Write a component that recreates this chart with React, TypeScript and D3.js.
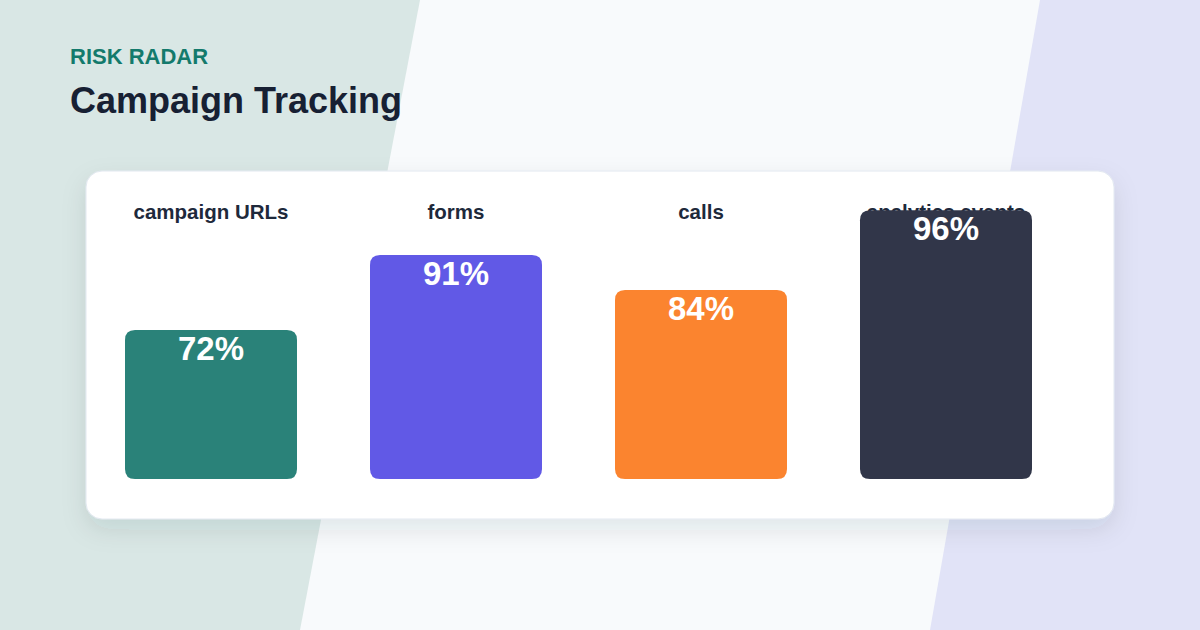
import React from "react";
import * as d3 from "d3";

const categories = ["campaign URLs", "forms", "calls", "analytics events"];
const valueLabels = ["72%", "91%", "84%", "96%"];
// bar heights as drawn (percent of the plot height)
const barLevels = [53.2, 80, 67.5, 96];
const colors = ["#2a8279", "#6159e6", "#fb842f", "#313649"];

const W = 1200;
const H = 630;
const card = { x: 86, y: 171, w: 1028, h: 348 };
const plot = { left: 125, right: 1032, bottom: 479 };

export default function App() {
  const x = d3
    .scaleBand<string>()
    .domain(categories)
    .range([plot.left, plot.right])
    .paddingInner(73 / 245)
    .paddingOuter(0);
  const bw = x.bandwidth();
  const xPos = (c: string) => (x(c) as number);
  const y = d3.scaleLinear().domain([0, 100]).range([plot.bottom, plot.bottom - 280]);
  const font = "'Liberation Sans', Arial, Helvetica, sans-serif";
  const r = 10;
  const barPath = (x0: number, y0: number, w: number, h: number) => {
    const p = d3.path();
    p.moveTo(x0 + r, y0);
    p.lineTo(x0 + w - r, y0);
    p.quadraticCurveTo(x0 + w, y0, x0 + w, y0 + r);
    p.lineTo(x0 + w, y0 + h - r);
    p.quadraticCurveTo(x0 + w, y0 + h, x0 + w - r, y0 + h);
    p.lineTo(x0 + r, y0 + h);
    p.quadraticCurveTo(x0, y0 + h, x0, y0 + h - r);
    p.lineTo(x0, y0 + r);
    p.quadraticCurveTo(x0, y0, x0 + r, y0);
    p.closePath();
    return p.toString();
  };
  return (
    <svg
      width={W}
      height={H}
      style={{ position: "absolute", left: 0, top: 0, display: "block" }}
      fontFamily={font}
    >
      <defs>
        <filter id="shadow" x="-10%" y="-20%" width="120%" height="150%">
          <feDropShadow dx="0" dy="10" stdDeviation="12" floodColor="#1e293b" floodOpacity="0.10" />
        </filter>
      </defs>
      <rect x={0} y={0} width={W} height={H} fill="#f8fafc" />
      <polygon points="0,0 420,0 300,630 0,630" fill="#d9e7e5" />
      <polygon points="1040,0 1200,0 1200,630 930,630" fill="#e1e3f7" />
      <text x={70} y={64} fontSize={22} fontWeight={700} fill="#137a6c">
        RISK RADAR
      </text>
      <text x={70} y={113} fontSize={36} fontWeight={700} fill="#172033">
        Campaign Tracking
      </text>
      <rect
        x={card.x}
        y={card.y}
        width={card.w}
        height={card.h}
        rx={16}
        fill="#ffffff"
        stroke="#e2e8f0"
        strokeWidth={1}
        filter="url(#shadow)"
      />
      {categories.map((c, i) => (
        <text
          key={"c" + i}
          x={xPos(c) + bw / 2}
          y={219}
          textAnchor="middle"
          fontSize={20.5}
          fontWeight={700}
          fill="#1e293b"
        >
          {c}
        </text>
      ))}
      {barLevels.map((v, i) => (
        <path
          key={"b" + i}
          d={barPath(xPos(categories[i]), y(v), bw, plot.bottom - y(v))}
          fill={colors[i]}
        />
      ))}
      {barLevels.map((v, i) => (
        <text
          key={"v" + i}
          x={xPos(categories[i]) + bw / 2}
          y={y(v) + 30}
          textAnchor="middle"
          fontSize={33}
          fontWeight={700}
          fill="#ffffff"
        >
          {valueLabels[i]}
        </text>
      ))}
    </svg>
  );
}
